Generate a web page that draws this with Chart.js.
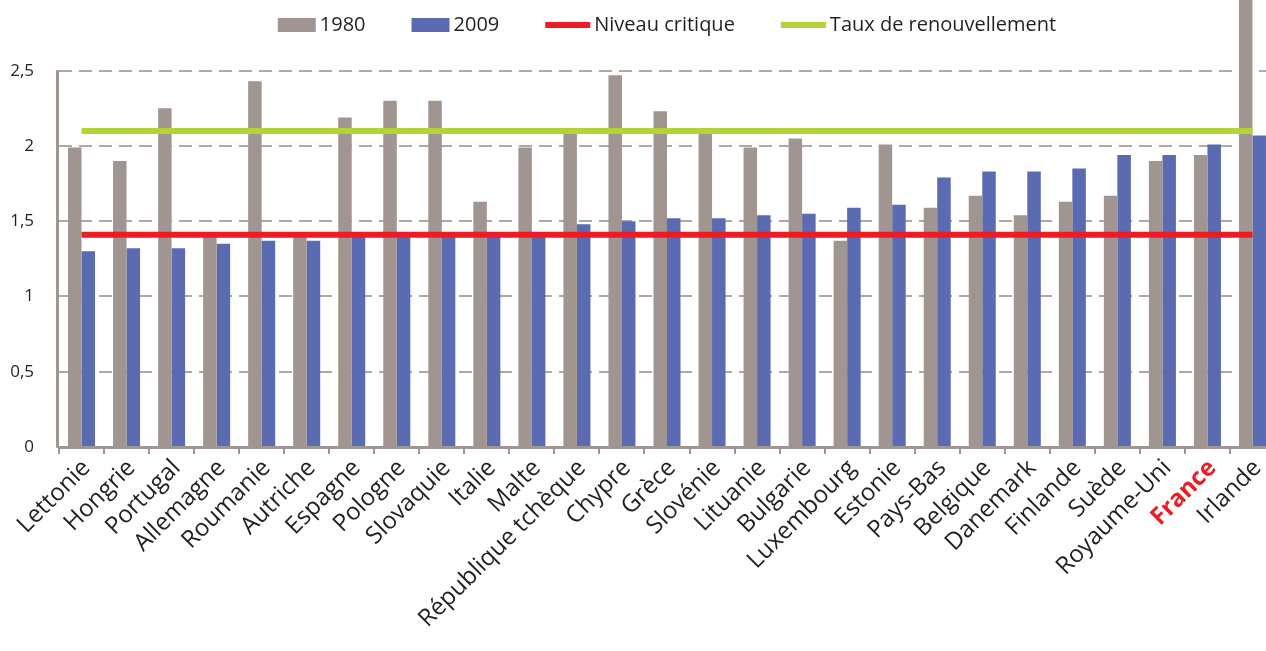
<!DOCTYPE html>
<html lang="fr">
<head>
<meta charset="utf-8">
<title>Fécondité 1980 / 2009</title>
<script src="https://cdn.jsdelivr.net/npm/chart.js@4.4.0/dist/chart.umd.min.js"></script>
<style>
  html, body { margin: 0; padding: 0; background: #fff; overflow: hidden; }
  #cadre { width: 1275px; height: 651px; }
</style>
</head>
<body>
<div id="cadre"><canvas id="graphique"></canvas></div>
<script>
// Données
const pays = ['Lettonie', 'Hongrie', 'Portugal', 'Allemagne', 'Roumanie', 'Autriche', 'Espagne',
  'Pologne', 'Slovaquie', 'Italie', 'Malte', 'République tchèque', 'Chypre', 'Grèce', 'Slovénie',
  'Lituanie', 'Bulgarie', 'Luxembourg', 'Estonie', 'Pays-Bas', 'Belgique', 'Danemark', 'Finlande',
  'Suède', 'Royaume-Uni', 'France', 'Irlande'];

const fecondite1980 = [1.99, 1.90, 2.25, 1.42, 2.43, 1.41, 2.19, 2.30, 2.30, 1.63, 1.99, 2.09, 2.47,
  2.23, 2.09, 1.99, 2.05, 1.37, 2.01, 1.59, 1.67, 1.54, 1.63, 1.67, 1.90, 1.94, 3.21];

const fecondite2009 = [1.30, 1.32, 1.32, 1.35, 1.37, 1.37, 1.40, 1.40, 1.41, 1.41, 1.41, 1.48, 1.50,
  1.52, 1.52, 1.54, 1.55, 1.59, 1.61, 1.79, 1.83, 1.83, 1.85, 1.94, 1.94, 2.01, 2.07];

const niveauCritique = 1.41;
const tauxRenouvellement = 2.1;
const graduationsY = [0, 0.5, 1, 1.5, 2, 2.5];

const gris = '#a19591';
const bleu = '#5b6bb1';
const rouge = '#ed1c24';
const vert = '#b3d336';
const texte = '#231f20';
const police = '"Open Sans", sans-serif';

// Légende dessinée en haut, dans la zone du graphique
const legendeHaut = {
  id: 'legendeHaut',
  afterDraw(chart) {
    const ctx = chart.ctx;
    const zone = chart.chartArea;
    ctx.save();
    ctx.font = '20px ' + police;
    ctx.textBaseline = 'middle';
    const items = chart.data.datasets.map(ds => {
      const ligne = ds.type === 'line';
      return {
        texte: ds.label,
        couleur: ligne ? ds.borderColor : ds.backgroundColor,
        ligne: ligne,
        marque: ligne ? 45 : 38,
        largeur: ctx.measureText(ds.label).width
      };
    });
    const ecart = 4, espace = 46;
    let total = 0;
    items.forEach((it, i) => { total += it.marque + ecart + it.largeur + (i ? espace : 0); });
    let x = (zone.left + zone.right) / 2 - total / 2;
    const y = 25;
    items.forEach(it => {
      ctx.fillStyle = it.couleur;
      if (it.ligne) ctx.fillRect(x, y - 3, it.marque, 6);
      else ctx.fillRect(x, y - 7, it.marque, 14);
      ctx.fillStyle = texte;
      ctx.fillText(it.texte, x + it.marque + ecart, y);
      x += it.marque + ecart + it.largeur + espace;
    });
    ctx.restore();
  }
};

// Axe vertical : seulement de 0 à la dernière graduation
const axeVertical = {
  id: 'axeVertical',
  beforeDatasetsDraw(chart) {
    const ctx = chart.ctx;
    const echelle = chart.scales.y;
    const x = chart.chartArea.left - 1.5;
    ctx.save();
    ctx.strokeStyle = gris;
    ctx.lineWidth = 3;
    ctx.beginPath();
    ctx.moveTo(x, echelle.getPixelForValue(graduationsY[graduationsY.length - 1]));
    ctx.lineTo(x, echelle.getPixelForValue(0));
    ctx.stroke();
    ctx.restore();
  }
};

const ctx = document.getElementById('graphique');

new Chart(ctx, {
  type: 'bar',
  data: {
    labels: pays,
    datasets: [
      {
        label: '1980',
        data: fecondite1980,
        backgroundColor: gris,
        categoryPercentage: 0.6,
        barPercentage: 1,
        order: 2
      },
      {
        label: '2009',
        data: fecondite2009,
        backgroundColor: bleu,
        categoryPercentage: 0.6,
        barPercentage: 1,
        order: 2
      },
      {
        type: 'line',
        label: 'Niveau critique',
        data: [{ x: pays[0], y: niveauCritique }, { x: pays[pays.length - 1], y: niveauCritique }],
        borderColor: rouge,
        backgroundColor: rouge,
        borderWidth: 6,
        pointRadius: 0,
        order: 1
      },
      {
        type: 'line',
        label: 'Taux de renouvellement',
        data: [{ x: pays[0], y: tauxRenouvellement }, { x: pays[pays.length - 1], y: tauxRenouvellement }],
        borderColor: vert,
        backgroundColor: vert,
        borderWidth: 6,
        pointRadius: 0,
        order: 0
      }
    ]
  },
  options: {
    responsive: true,
    maintainAspectRatio: false,
    animation: false,
    layout: { padding: 0 },
    plugins: {
      legend: { display: false },
      tooltip: { enabled: false }
    },
    scales: {
      x: {
        offset: true,
        afterFit: s => { s.height = 204; },
        border: { display: true, color: gris, width: 3 },
        grid: { offset: true, drawOnChartArea: false, drawTicks: true, tickLength: 7, color: gris, lineWidth: 2 },
        ticks: {
          autoSkip: false,
          minRotation: 45,
          maxRotation: 45,
          padding: 0,
          labelOffset: 5,
          color: c => (c.tick && c.tick.label === 'France') ? rouge : texte,
          font: c => ({
            family: police,
            size: 24,
            weight: (c.tick && c.tick.label === 'France') ? 'bold' : 'normal'
          })
        }
      },
      y: {
        min: 0,
        max: 2.97,
        // la barre de l'Irlande monte jusqu'en haut du cadre
        afterFit: s => { s.width = 59; s.paddingTop = 0; },
        afterBuildTicks: s => { s.ticks = graduationsY.map(v => ({ value: v })); },
        border: { display: false, dash: [13, 7] },
        grid: { color: '#b1a7a4', lineWidth: 2, tickLength: 3, tickBorderDash: [] },
        ticks: {
          padding: 22,
          color: texte,
          font: { family: police, size: 17 },
          callback: v => String(v).replace('.', ',')
        }
      }
    }
  },
  plugins: [legendeHaut, axeVertical]
});
</script>
</body>
</html>
